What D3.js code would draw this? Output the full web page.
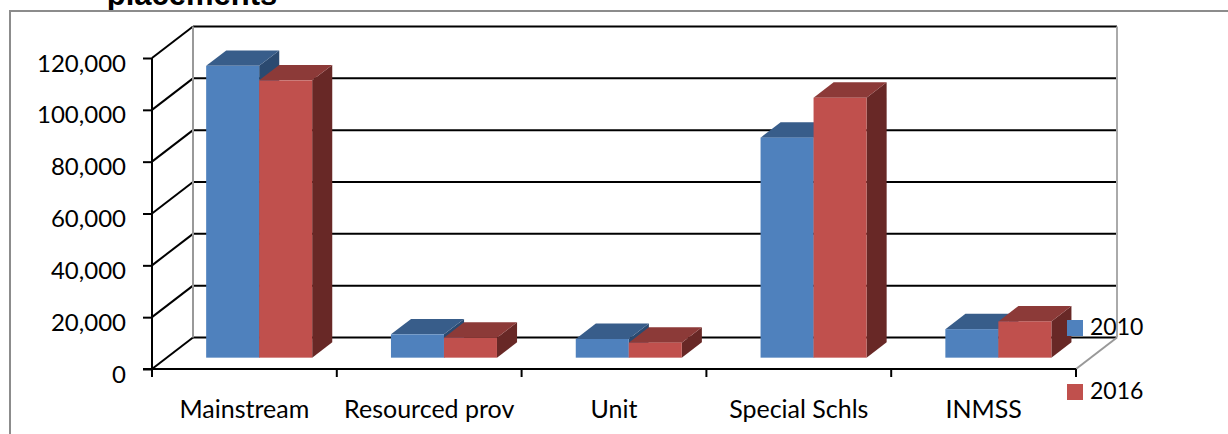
<!DOCTYPE html>
<html lang="en">
<head>
<meta charset="UTF-8">
<script src="https://cdnjs.cloudflare.com/ajax/libs/d3/7.8.5/d3.min.js"></script>
<title>Placements</title>
<style>
  body { margin: 0; background: #fff; }
  text { font-family: Lato, "Open Sans", sans-serif; fill: #000; }
</style>
</head>
<body>
<script>

    // data
    let categories = ["Mainstream", "Resourced prov", "Unit", "Special Schls", "INMSS"];
    let seriesNames = ["2010", "2016"];
    let values2010 = [112600, 9000, 7200, 84900, 11000];
    let values2016 = [107000, 7700, 5800, 100300, 14000];
    let yTicks = [0, 20000, 40000, 60000, 80000, 100000, 120000];

    let colors = {
        "2010": {front: "#4f81bd", top: "#385d8a", side: "#2b4a70"},
        "2016": {front: "#c0504d", top: "#8c3a38", side: "#682826"}
    };

    let W = 1228, H = 434;
    // front plane of the plot
    let left = 152, right = 1076, zeroY = 369, topY = 58;
    // depth vector from front to back wall
    let dx = 41, dy = -31.5;
    // bars sit between these depth fractions
    let d0 = 0.36, d1 = 0.85;

    let y = d3.scaleLinear().domain([0, 120000]).range([zeroY, topY]);
    let x = d3.scaleBand().domain(categories).range([left, right]).padding(0);
    let xs = d3.scaleBand().domain(seriesNames).range([39.4, 145.4]).padding(0);

    let svg = d3.select("body").append("svg")
        .attr("width", W).attr("height", H);

    // title (only the last line shows at the top, like the original)
    svg.append("text")
        .attr("x", 192).attr("y", 5)
        .style("text-anchor", "middle")
        .style("font-family", "'Liberation Sans', Arial, sans-serif")
        .style("font-weight", "bold")
        .style("font-size", "31px")
        .text("placements");

    // chart area
    svg.append("rect")
        .attr("x", 10).attr("y", 11)
        .attr("width", W + 50).attr("height", H + 50)
        .attr("fill", "#fff")
        .attr("stroke", "#8c8c8c").attr("stroke-width", 2);

    let g = svg.append("g");

    // back wall gridlines and left wall diagonals
    yTicks.forEach(function(t) {
        g.append("line")
            .attr("x1", left + dx).attr("x2", right + dx)
            .attr("y1", y(t) + dy).attr("y2", y(t) + dy)
            .attr("stroke", "#000").attr("stroke-width", 2);
        g.append("line")
            .attr("x1", left).attr("x2", left + dx)
            .attr("y1", y(t)).attr("y2", y(t) + dy)
            .attr("stroke", "#000").attr("stroke-width", 2);
    });

    // wall edges
    g.append("line")
        .attr("x1", left + dx).attr("x2", left + dx)
        .attr("y1", y(0) + dy).attr("y2", y(120000) + dy)
        .attr("stroke", "#999").attr("stroke-width", 2);
    g.append("line")
        .attr("x1", right + dx).attr("x2", right + dx)
        .attr("y1", y(0) + dy).attr("y2", y(120000) + dy)
        .attr("stroke", "#aaa").attr("stroke-width", 2);
    g.append("line")
        .attr("x1", right).attr("x2", right + dx)
        .attr("y1", y(0)).attr("y2", y(0) + dy)
        .attr("stroke", "#999").attr("stroke-width", 2);

    // bars
    let rows = [];
    categories.forEach(function(c, i) {
        rows.push({cat: c, s: "2010", v: values2010[i]});
        rows.push({cat: c, s: "2016", v: values2016[i]});
    });

    rows.forEach(function(d) {
        let bx = x(d.cat) + xs(d.s) + d0 * dx;
        let bw = xs.bandwidth();
        let by0 = zeroY + d0 * dy;
        let by1 = by0 - (y(0) - y(d.v));
        let ox = (d1 - d0) * dx, oy = (d1 - d0) * dy;
        let col = colors[d.s];
        // side
        g.append("path")
            .attr("d", "M" + (bx + bw) + "," + by0 + "L" + (bx + bw + ox) + "," + (by0 + oy) +
                "L" + (bx + bw + ox) + "," + (by1 + oy) + "L" + (bx + bw) + "," + by1 + "Z")
            .attr("fill", col.side);
        // top
        g.append("path")
            .attr("d", "M" + bx + "," + by1 + "L" + (bx + ox) + "," + (by1 + oy) +
                "L" + (bx + bw + ox) + "," + (by1 + oy) + "L" + (bx + bw) + "," + by1 + "Z")
            .attr("fill", col.top);
        // front
        g.append("rect")
            .attr("x", bx).attr("y", by1)
            .attr("width", bw).attr("height", by0 - by1)
            .attr("fill", col.front);
    });

    // front y axis
    let yAxis = svg.append("g")
        .attr("transform", "translate(" + left + ",0)")
        .call(d3.axisLeft(y).tickValues(yTicks).tickSize(9).tickPadding(17)
            .tickFormat(d3.format(",")));
    yAxis.select(".domain").attr("stroke", "#000").attr("stroke-width", 2)
        .attr("d", "M0," + y(120000) + "V" + y(0));
    yAxis.selectAll(".tick line").attr("stroke", "#000").attr("stroke-width", 2);
    yAxis.selectAll(".tick text")
        .attr("dy", null).attr("y", 13)
        .style("font-family", "Lato, sans-serif").style("font-size", "24px");

    // front x axis
    let xAxis = svg.append("g")
        .attr("transform", "translate(0," + zeroY + ")")
        .call(d3.axisBottom(x).tickSize(0));
    xAxis.select(".domain").attr("stroke", "#000").attr("stroke-width", 2)
        .attr("d", "M" + (left - 9) + ",0H" + right);
    xAxis.selectAll(".tick text")
        .attr("dy", null).attr("y", 49)
        .style("font-family", "Lato, sans-serif").style("font-size", "25px");

    // category boundary ticks
    xAxis.selectAll(".bound")
        .data(categories.concat([null]))
        .enter().append("line")
        .attr("x1", function(d) { return d === null ? right : x(d); })
        .attr("x2", function(d) { return d === null ? right : x(d); })
        .attr("y1", 0).attr("y2", 8)
        .attr("stroke", "#000").attr("stroke-width", 2);

    // legend
    let legendY = [320, 384];
    seriesNames.forEach(function(s, i) {
        svg.append("rect")
            .attr("x", 1067).attr("y", legendY[i])
            .attr("width", 16).attr("height", 16)
            .attr("fill", colors[s].front);
        svg.append("text")
            .attr("x", 1090).attr("y", legendY[i] + 15)
            .style("font-size", "23px")
            .text(s);
    });

</script>
</body>
</html>
